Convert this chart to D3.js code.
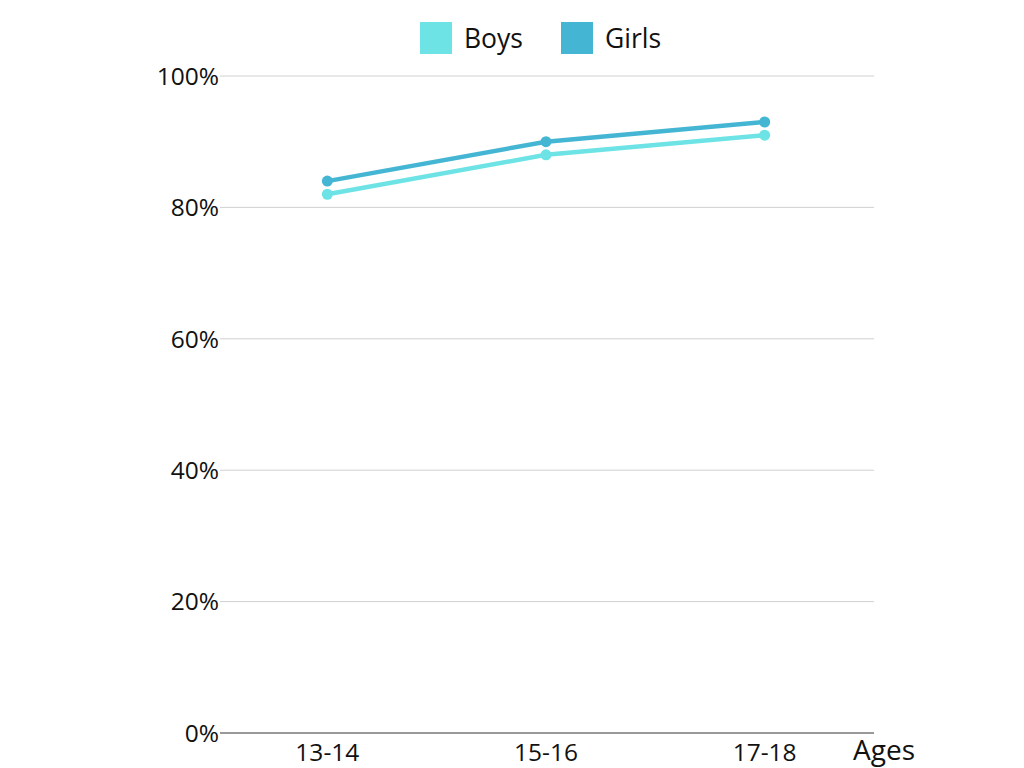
<!DOCTYPE html>
<html><head><meta charset="utf-8">
<script src="https://cdn.jsdelivr.net/npm/d3@7/dist/d3.min.js"></script>
<style>body{margin:0;background:#fff;}svg{display:block;font-family:"Open Sans","Noto Sans",sans-serif;}</style>
</head><body>
<svg id="c" width="1024" height="768"></svg>
<script>
const categories = ["13-14","15-16","17-18"];
const boys = [82, 88, 91];
const girls = [84, 90, 93];
const yTicks = [0,20,40,60,80,100];
const seriesNames = ["Boys","Girls"];
const colors = ["#6de3e6","#44b6d3"];

const svg = d3.select("#c");
const x = d3.scaleBand().domain(categories).range([218,874]);
const y = d3.scaleLinear().domain([0,100]).range([733,76]);

// grid
svg.append("g").selectAll("line").data(yTicks).join("line")
  .attr("x1",220).attr("x2",874)
  .attr("y1",d=>y(d)).attr("y2",d=>y(d))
  .attr("stroke",d=>d===0?"#777":"#d0d0d0").attr("stroke-width",d=>d===0?1.5:1);

svg.append("g").selectAll("text").data(yTicks).join("text")
  .attr("x",219).attr("y",d=>y(d)).attr("dy","0.36em")
  .attr("text-anchor","end").attr("font-size",24.5).attr("fill","#111")
  .text(d=>d+"%");

svg.append("g").selectAll("text").data(categories).join("text")
  .attr("x",d=>x(d)+x.bandwidth()/2).attr("y",761)
  .attr("text-anchor","middle").attr("font-size",24.5).attr("fill","#111")
  .text(d=>d);

svg.append("text").attr("x",853).attr("y",760).attr("font-size",28).attr("fill","#111").text("Ages");

const line = d3.line().x((d,i)=>x(categories[i])+x.bandwidth()/2).y(d=>y(d));
[boys,girls].forEach((s,k)=>{
  svg.append("path").attr("d",line(s)).attr("fill","none")
    .attr("stroke",colors[k]).attr("stroke-width",4.5);
  svg.append("g").selectAll("circle").data(s).join("circle")
    .attr("cx",(d,i)=>x(categories[i])+x.bandwidth()/2).attr("cy",d=>y(d))
    .attr("r",5.5).attr("fill",colors[k]);
});

// legend
const lx = [420,561];
seriesNames.forEach((n,k)=>{
  svg.append("rect").attr("x",lx[k]).attr("y",22).attr("width",32).attr("height",32).attr("fill",colors[k]);
  svg.append("text").attr("x",lx[k]+44).attr("y",38).attr("dy","0.36em")
    .attr("font-size",26.5).attr("fill","#111").text(n);
});
</script>
</body></html>
